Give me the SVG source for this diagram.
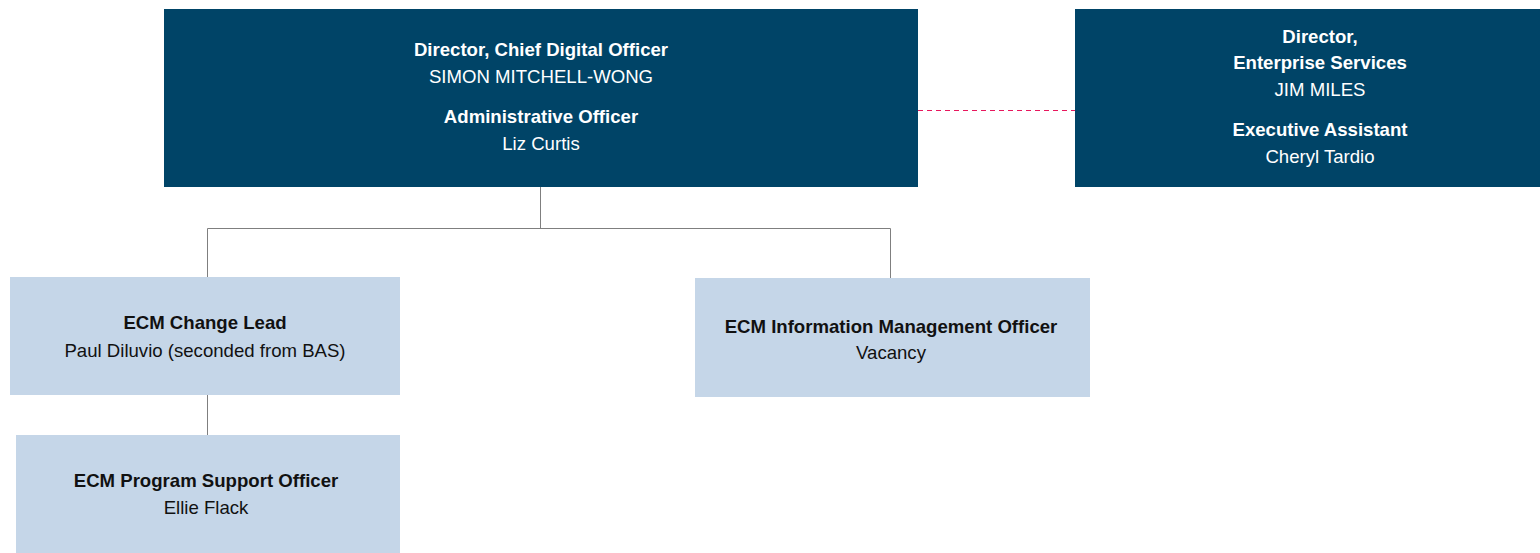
<svg xmlns="http://www.w3.org/2000/svg" width="1540" height="553" viewBox="0 0 1540 553">
<style>
.dark{fill:#004467}
.light{fill:#C5D6E8}
text{font-family:"Liberation Sans",Arial,sans-serif;font-size:18.6px;text-anchor:middle}
.w{fill:#ffffff}
.k{fill:#111111}
.b{font-weight:bold}
.conn{stroke:#7f7f7f;stroke-width:1;fill:none}
.dash{stroke:#E8175D;stroke-width:1;stroke-dasharray:5,4;fill:none}
</style>
<g id="connectors">
<path class="conn" d="M540.5,187 V228.5 M207.5,228.5 H890.5 M207.5,228.5 V277 M890.5,228.5 V278 M207.5,395 V435"/>
<path class="dash" d="M918,110.5 H1075"/>
</g>
<g id="cdo">
<rect class="dark" x="164" y="9" width="754" height="178"/>
<text class="w b" x="541" y="56">Director, Chief Digital Officer</text>
<text class="w" x="541" y="83">SIMON MITCHELL-WONG</text>
<text class="w b" x="541" y="123">Administrative Officer</text>
<text class="w" x="541" y="150">Liz Curtis</text>
</g>
<g id="es">
<rect class="dark" x="1075" y="9" width="465" height="178"/>
<text class="w b" x="1320" y="43">Director,</text>
<text class="w b" x="1320" y="69">Enterprise Services</text>
<text class="w" x="1320" y="96">JIM MILES</text>
<text class="w b" x="1320" y="136">Executive Assistant</text>
<text class="w" x="1320" y="163">Cheryl Tardio</text>
</g>
<g id="changelead">
<rect class="light" x="10" y="277" width="390" height="118"/>
<text class="k b" x="205" y="329">ECM Change Lead</text>
<text class="k" x="205" y="357">Paul Diluvio (seconded from BAS)</text>
</g>
<g id="imo">
<rect class="light" x="695" y="278" width="395" height="119"/>
<text class="k b" x="891" y="333">ECM Information Management Officer</text>
<text class="k" x="891" y="359">Vacancy</text>
</g>
<g id="pso">
<rect class="light" x="16" y="435" width="384" height="118"/>
<text class="k b" x="206" y="487">ECM Program Support Officer</text>
<text class="k" x="206" y="514">Ellie Flack</text>
</g>
</svg>
